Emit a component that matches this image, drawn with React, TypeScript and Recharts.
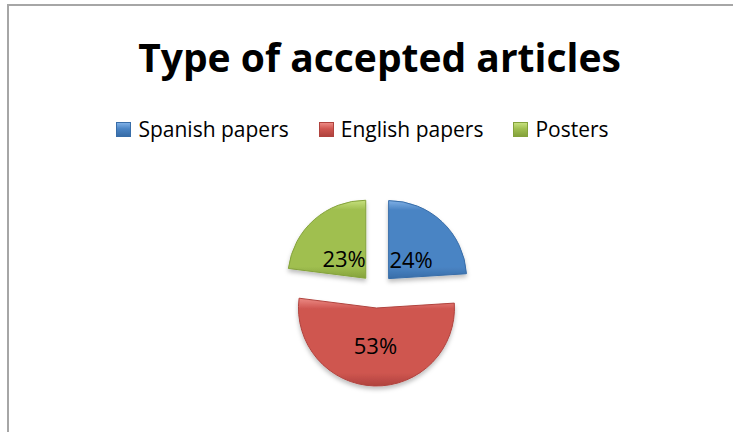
import { PieChart, Pie, Cell, Sector } from "recharts";

const categories = ["Spanish papers", "English papers", "Posters"];
const shares = [24, 53, 23];
const colors = ["#4a84c4", "#cf5650", "#a0bf50"];
const lightColors = ["#7fb0e6", "#ec8a84", "#c6e07e"];
const darkColors = ["#386da8", "#b0433e", "#84a23b"];

const data = categories.map((name, i) => ({ name, value: shares[i] }));

const RAD = Math.PI / 180;
const EXPLODE = 17;

const ExplodedSector = (props: any) => {
  const { cx, cy, midAngle, index } = props;
  const dx = EXPLODE * Math.cos(-midAngle * RAD);
  const dy = EXPLODE * Math.sin(-midAngle * RAD);
  return (
    <g filter="url(#shadow)">
      <Sector
        {...props}
        cx={cx + dx}
        cy={cy + dy}
        fill={`url(#grad${index})`}
        stroke={darkColors[index]}
        strokeWidth={1}
      />
    </g>
  );
};

const renderLabel = (props: any) => {
  const { cx, cy, midAngle, outerRadius, percent } = props;
  const r = EXPLODE + outerRadius * 0.42;
  const x = cx + r * Math.cos(-midAngle * RAD);
  const y = cy + r * Math.sin(-midAngle * RAD) + 4;
  return (
    <text
      x={x}
      y={y}
      textAnchor="middle"
      dominantBaseline="central"
      fill="#000"
      style={{ fontFamily: "'Open Sans'", fontSize: 22 }}
    >
      {`${Math.round(percent * 100)}%`}
    </text>
  );
};

function ChartLegend() {
  return (
    <div
      style={{
        position: "absolute",
        left: 0,
        top: 115,
        width: 725,
        display: "flex",
        justifyContent: "center",
        fontFamily: "Open Sans",
        fontSize: 21,
        color: "#000",
      }}
    >
      {categories.map((name, i) => (
        <div key={name} style={{ display: "flex", alignItems: "center", marginLeft: i === 0 ? 0 : 30 }}>
          <span
            style={{
              display: "inline-block",
              width: 13,
              height: 13,
              marginRight: 7,
              background: `linear-gradient(${lightColors[i]}, ${colors[i]} 45%, ${darkColors[i]})`,
              border: `1px solid ${darkColors[i]}`,
            }}
          />
          <span>{name}</span>
        </div>
      ))}
    </div>
  );
}

export default function App() {
  return (
    <div style={{ position: "absolute", left: 0, top: 0, width: 733, height: 432, overflow: "hidden", background: "#fff" }}>
      <div
        style={{
          position: "absolute",
          left: 7,
          top: 4,
          width: 760,
          height: 460,
          borderTop: "2px solid #a6a6a6",
          borderLeft: "2px solid #a6a6a6",
        }}
      />
      <div
        style={{
          position: "absolute",
          left: 0,
          top: 30,
          width: 759,
          textAlign: "center",
          fontFamily: "Open Sans",
          fontWeight: 700,
          fontSize: 39,
          color: "#000",
        }}
      >
        Type of accepted articles
      </div>
      <ChartLegend />
      <div style={{ position: "absolute", left: 0, top: 0 }}>
        <PieChart width={733} height={432} margin={{ top: 0, right: 0, bottom: 0, left: 0 }}>
          <defs>
            {colors.map((c, i) => (
              <linearGradient key={c} id={`grad${i}`} x1="0" y1="0" x2="0" y2="1">
                <stop offset="0%" stopColor={lightColors[i]} />
                <stop offset="12%" stopColor={c} />
                <stop offset="85%" stopColor={c} />
                <stop offset="100%" stopColor={darkColors[i]} />
              </linearGradient>
            ))}
            <filter id="shadow" x="-20%" y="-20%" width="140%" height="150%">
              <feDropShadow dx="0" dy="3" stdDeviation="2" floodColor="#000" floodOpacity="0.25" />
            </filter>
          </defs>
          <Pie
            data={data}
            dataKey="value"
            nameKey="name"
            cx={377}
            cy={291}
            outerRadius={78}
            startAngle={90}
            endAngle={-270}
            stroke="none"
            shape={ExplodedSector}
            label={renderLabel}
            labelLine={false}
            isAnimationActive={false}
          >
            {data.map((d, i) => (
              <Cell key={d.name} fill={colors[i]} />
            ))}
          </Pie>
        </PieChart>
      </div>
    </div>
  );
}
